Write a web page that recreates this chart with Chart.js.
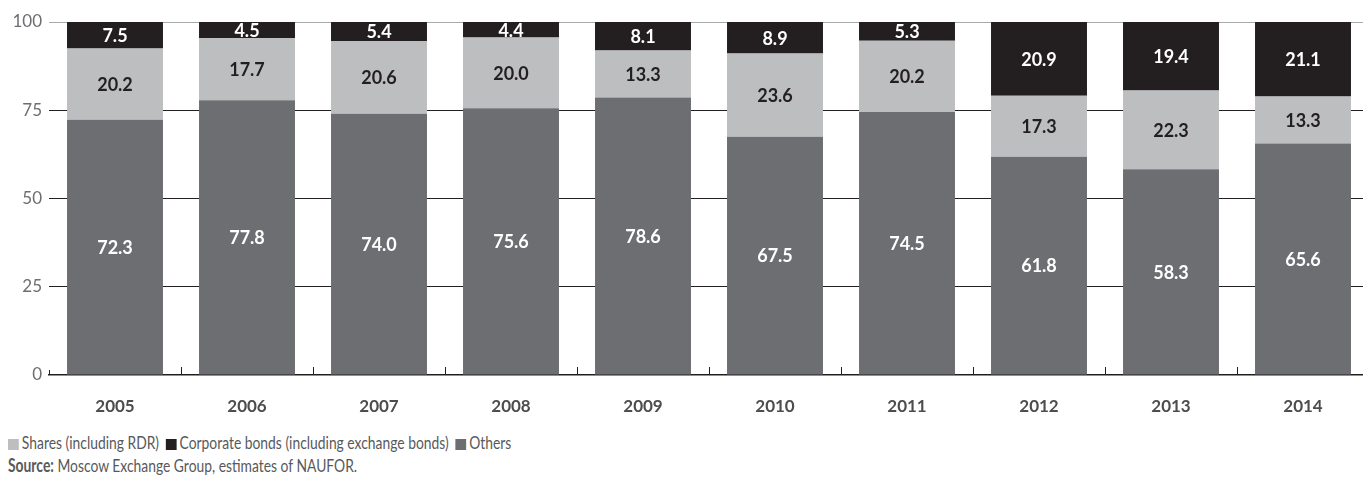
<!DOCTYPE html>
<html>
<head>
<meta charset="utf-8">
<script src="https://cdn.jsdelivr.net/npm/chart.js@4/dist/chart.umd.min.js"></script>
<style>
  body { margin: 0; overflow: hidden; background: #fff; width: 1363px; height: 481px; }
  #wrap { position: absolute; left: 0; top: 0; width: 1369px; height: 420px; }
  #legend, #source { position: absolute; left: 8px; font: 18px Lato, sans-serif; color: #58595b; white-space: nowrap; transform: scaleX(0.77); transform-origin: 0 0; }
  #legend { top: 431px; }
  #source { top: 454px; }
  #legend .sw { display: inline-block; width: 14px; height: 11px; margin-right: 4px; vertical-align: -1px; }
  #legend .it { margin-right: 4px; }
</style>
</head>
<body>
<div id="wrap"><canvas id="myChart"></canvas></div>
<div id="legend">
  <span class="it"><span class="sw" style="background:#bcbec0"></span>Shares (including RDR)</span>
  <span class="it"><span class="sw" style="background:#231f20"></span>Corporate bonds (including exchange bonds)</span>
  <span class="it"><span class="sw" style="background:#6d6e71"></span>Others</span>
</div>
<div id="source"><b>Source:</b> Moscow Exchange Group, estimates of NAUFOR.</div>
<script>
const years = ['2005', '2006', '2007', '2008', '2009', '2010', '2011', '2012', '2013', '2014'];
const others = [72.3, 77.8, 74.0, 75.6, 78.6, 67.5, 74.5, 61.8, 58.3, 65.6];
const shares = [20.2, 17.7, 20.6, 20.0, 13.3, 23.6, 20.2, 17.3, 22.3, 13.3];
const bonds = [7.5, 4.5, 5.4, 4.4, 8.1, 8.9, 5.3, 20.9, 19.4, 21.1];
const yTicks = [0, 25, 50, 75, 100];

Chart.defaults.font.family = 'Lato, sans-serif';

// value labels in the middle of each segment
const segLabels = {
  id: 'segLabels',
  afterDatasetsDraw(chart) {
    const ctx = chart.ctx;
    ctx.save();
    ctx.font = 'bold 18px Lato, sans-serif';
    ctx.textAlign = 'center';
    ctx.textBaseline = 'middle';
    chart.data.datasets.forEach((ds, i) => {
      const meta = chart.getDatasetMeta(i);
      ctx.fillStyle = ds.labelColor;
      meta.data.forEach((bar, j) => {
        ctx.fillText(ds.data[j].toFixed(1), bar.x, (bar.y + bar.base) / 2 + 1);
      });
    });
    ctx.restore();
  }
};

// small upward ticks between categories
const catTicks = {
  id: 'catTicks',
  beforeDatasetsDraw(chart) {
    const x = chart.scales.x, y0 = chart.chartArea.bottom;
    const step = x.getPixelForValue(1) - x.getPixelForValue(0);
    const ctx = chart.ctx;
    ctx.save();
    ctx.strokeStyle = '#231f20';
    ctx.lineWidth = 1;
    for (let i = 0; i <= years.length; i++) {
      const px = Math.round(x.getPixelForValue(0) - step / 2 + i * step) + 0.5;
      ctx.beginPath();
      ctx.moveTo(px, y0);
      ctx.lineTo(px, y0 - (i === 0 ? 5 : 8));
      ctx.stroke();
    }
    ctx.restore();
  }
};

new Chart('myChart', {
  type: 'bar',
  data: {
    labels: years,
    datasets: [
      { label: 'Others', data: others, backgroundColor: '#6d6e71', labelColor: '#ffffff' },
      { label: 'Shares (including RDR)', data: shares, backgroundColor: '#bcbec0', labelColor: '#231f20' },
      { label: 'Corporate bonds (including exchange bonds)', data: bonds, backgroundColor: '#231f20', labelColor: '#ffffff' }
    ]
  },
  options: {
    responsive: true,
    maintainAspectRatio: false,
    animation: false,
    layout: { padding: { top: 22, right: 0, left: 0, bottom: 0 } },
    datasets: { bar: { categoryPercentage: 1, barPercentage: 0.727, borderWidth: 0 } },
    plugins: { legend: { display: false }, tooltip: { enabled: false } },
    scales: {
      x: {
        stacked: true,
        grid: { display: false },
        border: { display: true, color: '#231f20', width: 1.5 },
        ticks: { color: '#4d4d4f', font: { size: 17, weight: 'bold' }, padding: 13 },
        afterFit(s) { s.height = 45; }
      },
      y: {
        stacked: true,
        min: 0, max: 100,
        afterBuildTicks(s) { s.ticks = yTicks.map(v => ({ value: v })); },
        border: { display: false },
        grid: {
          drawTicks: false,
          color: c => c.tick.value === 100 ? '#a7a9ac' : (c.tick.value === 0 ? 'rgba(0,0,0,0)' : '#231f20'),
          lineWidth: 1
        },
        ticks: { color: '#6d6e71', font: { size: 17 }, padding: 7 },
        afterFit(s) { s.width = 49; }
      }
    }
  },
  plugins: [catTicks, segLabels]
});
</script>
</body>
</html>
